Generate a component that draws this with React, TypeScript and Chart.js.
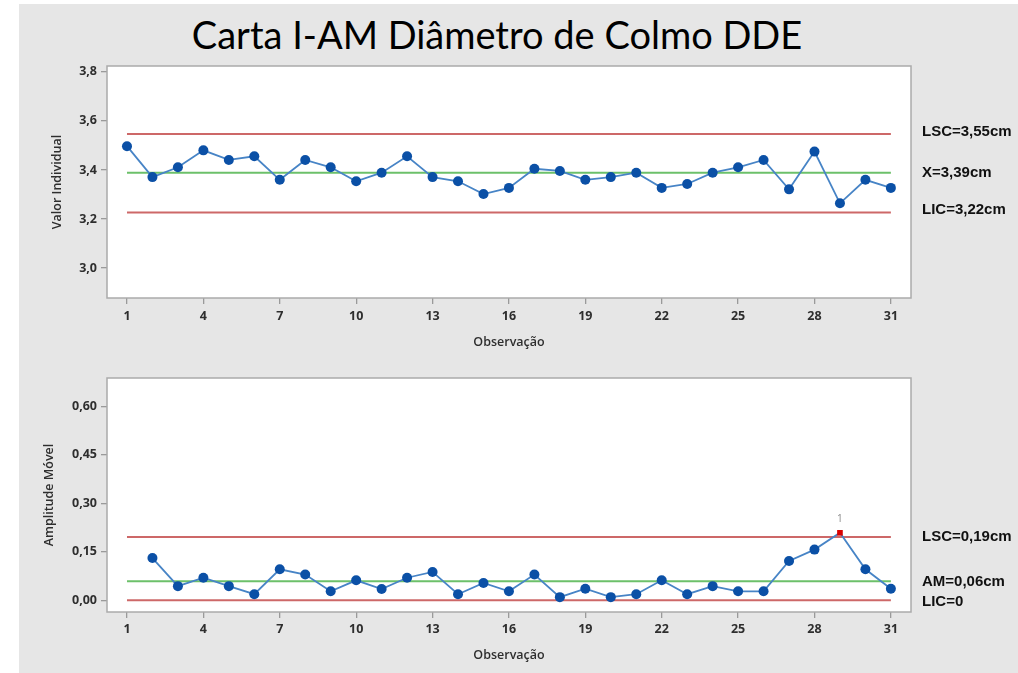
import React, { useEffect, useRef } from "react";
import { Chart, registerables } from "chart.js";

Chart.register(...registerables);

// ---------- data ----------
const observacoes = [1, 2, 3, 4, 5, 6, 7, 8, 9, 10, 11, 12, 13, 14, 15, 16, 17, 18, 19, 20, 21, 22, 23, 24, 25, 26, 27, 28, 29, 30, 31];
const valorIndividual = [3.497, 3.371, 3.411, 3.48, 3.441, 3.456, 3.36, 3.441, 3.411, 3.354, 3.389, 3.456, 3.371, 3.354, 3.302, 3.327, 3.405, 3.396, 3.36, 3.371, 3.389, 3.327, 3.343, 3.389, 3.411, 3.441, 3.321, 3.475, 3.264, 3.36, 3.327];
const observacoesAM = [2, 3, 4, 5, 6, 7, 8, 9, 10, 11, 12, 13, 14, 15, 16, 17, 18, 19, 20, 21, 22, 23, 24, 25, 26, 27, 28, 29, 30, 31];
const amplitudeMovel = [0.131, 0.044, 0.07, 0.044, 0.019, 0.096, 0.08, 0.028, 0.062, 0.035, 0.07, 0.088, 0.019, 0.054, 0.028, 0.08, 0.01, 0.036, 0.01, 0.019, 0.062, 0.019, 0.044, 0.028, 0.028, 0.122, 0.157, 0.209, 0.096, 0.036];
const xTicks = [1, 4, 7, 10, 13, 16, 19, 22, 25, 28, 31];
const yTicksI = [3.0, 3.2, 3.4, 3.6, 3.8];
const yTicksAM = [0, 0.15, 0.3, 0.45, 0.6];
const limitesI = [3.547, 3.389, 3.227];
const rotulosI = ["LSC=3,55cm", "X=3,39cm", "LIC=3,22cm"];
const limitesAM = [0.196, 0.059, 0];
const rotulosAM = ["LSC=0,19cm", "AM=0,06cm", "LIC=0"];
const pontoForaDeControle = 29;
const rotuloForaDeControle = "1";
const titulo = "Carta I-AM Diâmetro de Colmo DDE";

// ---------- styles ----------
const PT_COLOR = "#0b50a6";
const LINE_COLOR = "#4784c6";
const RED = "#cd6868";
const GREEN = "#6cc06a";
const TICK_FONT = { family: "'Open Sans', sans-serif", size: 12.5, weight: "bold" as any };
const TITLE_FONT = { family: "'Open Sans', sans-serif", size: 12.5, weight: "600" as any };

type Cfg = {
  xs: number[];
  ys: number[];
  yTicks: number[];
  yDecimals: number;
  yMin: number;
  yMax: number;
  limits: number[];
  labels: string[];
  yTitle: string;
  padTop: number;
  xHeight: number;
  yTitlePad: number;
  xTitlePad: number;
  xTickPad: number;
  labelOffset: number[];
  outIndex?: number;
};

function buildChart(canvas: HTMLCanvasElement, c: Cfg) {
  const main = c.xs.map((x, i) => ({ x, y: c.ys[i] }));
  const limitColors = [RED, GREEN, RED];
  const limitSets = c.limits.map((v, i) => ({
    data: [
      { x: observacoes[0], y: v },
      { x: observacoes[observacoes.length - 1], y: v },
    ],
    borderColor: limitColors[i],
    borderWidth: 2,
    pointRadius: 0,
    fill: false,
  }));
  const outIdx = c.outIndex === undefined ? -1 : c.xs.indexOf(c.outIndex);

  const framePlugin = {
    id: "frame",
    beforeDatasetsDraw(chart: any) {
      const { ctx, chartArea: a } = chart;
      ctx.save();
      ctx.fillStyle = "#ffffff";
      ctx.fillRect(a.left, a.top, a.right - a.left, a.bottom - a.top);
      ctx.restore();
    },
    afterDraw(chart: any) {
      const { ctx, chartArea: a, scales } = chart;
      ctx.save();
      ctx.strokeStyle = "#ababab";
      ctx.lineWidth = 1.5;
      ctx.strokeRect(a.left, a.top, a.right - a.left, a.bottom - a.top);
      ctx.fillStyle = "#111";
      ctx.font = "bold 15px 'Liberation Sans', Arial, sans-serif";
      ctx.textAlign = "left";
      ctx.textBaseline = "middle";
      c.limits.forEach((v, i) => {
        ctx.fillText(c.labels[i], a.right + 11, scales.y.getPixelForValue(v) + c.labelOffset[i]);
      });
      if (outIdx >= 0) {
        const px = scales.x.getPixelForValue(c.xs[outIdx]);
        const py = scales.y.getPixelForValue(c.ys[outIdx]);
        ctx.fillStyle = "#8a8a8a";
        ctx.font = "10px 'Open Sans', sans-serif";
        ctx.textAlign = "center";
        ctx.fillText(rotuloForaDeControle, px, py - 14);
      }
      ctx.restore();
    },
  };

  return new Chart(canvas, {
    type: "line",
    data: {
      datasets: [
        {
          data: main,
          borderColor: LINE_COLOR,
          borderWidth: 1.8,
          pointRadius: (ctx: any) => (ctx.dataIndex === outIdx ? 4 : 5),
          pointStyle: (ctx: any) => (ctx.dataIndex === outIdx ? "rect" : "circle"),
          pointBackgroundColor: (ctx: any) => (ctx.dataIndex === outIdx ? "#d90000" : PT_COLOR),
          pointBorderColor: (ctx: any) => (ctx.dataIndex === outIdx ? "#d90000" : PT_COLOR),
          pointBorderWidth: 0,
          fill: false,
          tension: 0,
        } as any,
        ...limitSets,
      ],
    },
    plugins: [framePlugin],
    options: {
      animation: false,
      responsive: false,
      maintainAspectRatio: false,
      events: [],
      layout: { padding: { top: c.padTop, right: 107, left: 0, bottom: 0 } },
      plugins: { legend: { display: false }, tooltip: { enabled: false }, title: { display: false } },
      scales: {
        x: {
          type: "linear",
          min: 0.215,
          max: 31.79,
          afterBuildTicks: (s: any) => {
            s.ticks = xTicks.map((v) => ({ value: v }));
          },
          afterFit: (s: any) => {
            s.height = c.xHeight;
          },
          ticks: {
            font: TICK_FONT,
            color: "#2e2e2e",
            padding: c.xTickPad,
            maxRotation: 0,
            autoSkip: false,
            callback: (v: any) => String(v),
          },
          grid: { display: true, drawOnChartArea: false, drawTicks: true, tickLength: 6, color: "#9a9a9a", lineWidth: 1.3 },
          border: { display: false },
          title: { display: true, text: "Observação", font: TITLE_FONT, color: "#2e2e2e", padding: { top: 0, bottom: c.xTitlePad } },
        },
        y: {
          type: "linear",
          min: c.yMin,
          max: c.yMax,
          afterBuildTicks: (s: any) => {
            s.ticks = c.yTicks.map((v) => ({ value: v }));
          },
          afterFit: (s: any) => {
            s.width = 107;
          },
          ticks: {
            font: TICK_FONT,
            color: "#2e2e2e",
            padding: 4,
            callback: (v: any) => Number(v).toFixed(c.yDecimals).replace(".", ","),
          },
          grid: { display: true, drawOnChartArea: false, drawTicks: true, tickLength: 6, color: "#9a9a9a", lineWidth: 1.3 },
          border: { display: false },
          title: { display: true, text: c.yTitle, font: TITLE_FONT, color: "#2e2e2e", padding: { top: c.yTitlePad, bottom: 0 } },
        },
      },
    } as any,
  });
}

export default function App() {
  const topRef = useRef<HTMLCanvasElement>(null);
  const botRef = useRef<HTMLCanvasElement>(null);

  useEffect(() => {
    const c1 = buildChart(topRef.current!, {
      xs: observacoes,
      ys: valorIndividual,
      yTicks: yTicksI,
      yDecimals: 1,
      yMin: 2.878,
      yMax: 3.824,
      limits: limitesI,
      labels: rotulosI,
      yTitle: "Valor Individual",
      padTop: 66,
      xHeight: 67,
      yTitlePad: 50,
      xTitlePad: 15,
      xTickPad: 5,
      labelOffset: [-2, 0, -3],
    });
    const c2 = buildChart(botRef.current!, {
      xs: observacoesAM,
      ys: amplitudeMovel,
      yTicks: yTicksAM,
      yDecimals: 2,
      yMin: -0.036,
      yMax: 0.688,
      limits: limitesAM,
      labels: rotulosAM,
      yTitle: "Amplitude Móvel",
      padTop: 13,
      xHeight: 61,
      yTitlePad: 42,
      xTitlePad: 10,
      xTickPad: 4,
      labelOffset: [0, 1, 1],
      outIndex: pontoForaDeControle,
    });
    return () => {
      c1.destroy();
      c2.destroy();
    };
  }, []);

  return (
    <div style={{ position: "fixed", left: 0, top: 0, width: 1018, height: 673, background: "#ffffff", overflow: "hidden" }}>
      <div style={{ position: "absolute", left: 19, top: 4, right: 0, bottom: 0, background: "#e6e6e6" }} />
      <div
        style={{
          position: "absolute",
          left: 0,
          top: 11,
          width: 994,
          textAlign: "center",
          fontFamily: "Lato, 'Open Sans', sans-serif",
          fontSize: 38,
          lineHeight: "46px",
          color: "#000",
        }}
      >
        {titulo}
      </div>
      <canvas ref={topRef} width={1018} height={365} style={{ position: "absolute", left: 0, top: 0, width: 1018, height: 365 }} />
      <canvas ref={botRef} width={1018} height={308} style={{ position: "absolute", left: 0, top: 365, width: 1018, height: 308 }} />
    </div>
  );
}
